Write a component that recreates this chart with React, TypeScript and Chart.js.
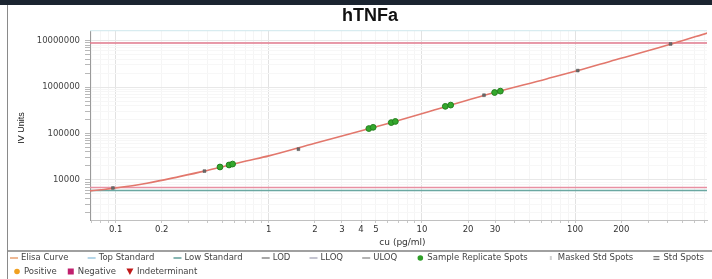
import React, { useEffect, useRef } from "react";
import { Chart, registerables } from "chart.js";

Chart.register(...registerables);

// ---------- text ----------
const CHART_TITLE = "hTNFa";
const X_AXIS_TITLE = "cu (pg/ml)";
const Y_AXIS_TITLE = "IV Units";

// ---------- tick labels ----------
const xLabelValues = [0.1, 0.2, 1, 2, 3, 4, 5, 10, 20, 30, 100, 200];
const yLabelValues = [10000, 100000, 1000000, 10000000];

// ---------- axis ranges ----------
const X_MIN = 0.068;
const X_MAX = 726;
const Y_MIN = 1370;
const Y_MAX = 1.7e7;

// ---------- Elisa curve ----------
const curveConc = [0.068, 0.1, 0.16, 0.26, 0.38, 0.49, 0.71, 1.0, 2.0, 3.45, 6.0, 12, 25.6, 65, 104, 184, 432, 730];
const curveSignal = [5800, 6700, 8500, 11800, 15500, 19000, 25500, 33000, 62000, 100000, 165000, 320000, 670000, 1500000, 2270000, 3900000, 8600000, 14700000];

// ---------- sample replicate spots ----------
const sampleConc = [0.48, 0.55, 0.58, 4.5, 4.8, 6.3, 6.7, 14.2, 15.4, 29.8, 32.5];
const sampleSignal = [19000, 21000, 22000, 128000, 136000, 172000, 182000, 385000, 410000, 765000, 820000];

// ---------- std spots ----------
const stdConc = [0.096, 0.38, 1.56, 25.4, 104, 420];
const stdSignal = [6700, 15500, 46000, 670000, 2270000, 8500000];

// ---------- horizontal reference lines ----------
const topStandardLevel = 1.65e7;
const uloqLevel = 8.9e6;
const lloqLevel = 6900;
const lowStandardLevel = 5950;

// ---------- legend ----------
const legendRow1 = ["Elisa Curve", "Top Standard", "Low Standard", "LOD", "LLOQ", "ULOQ", "Sample Replicate Spots", "Masked Std Spots", "Std Spots"];
const legendRow2 = ["Positive", "Negative", "Indeterminant"];

const FONT = '"DejaVu Sans", sans-serif';

const legendStyles: Record<string, { kind: string; color: string }> = {
  "Elisa Curve": { kind: "line", color: "#e8a070" },
  "Top Standard": { kind: "line", color: "#9cc8e0" },
  "Low Standard": { kind: "line", color: "#5f9e9a" },
  LOD: { kind: "line", color: "#8a8a8a" },
  LLOQ: { kind: "line", color: "#b0b0c0" },
  ULOQ: { kind: "line", color: "#9a9a9a" },
  "Sample Replicate Spots": { kind: "dot", color: "#2e9e28" },
  "Masked Std Spots": { kind: "tick", color: "#cfcfcf" },
  "Std Spots": { kind: "eq", color: "#777777" },
  Positive: { kind: "dot", color: "#f0a020" },
  Negative: { kind: "square", color: "#c0206e" },
  Indeterminant: { kind: "tri", color: "#c01818" },
};

const isDecade = (v: number) => Math.abs(Math.log10(v) - Math.round(Math.log10(v))) < 1e-6;
const inList = (v: number, list: number[]) => list.some((l) => Math.abs(l - v) / l < 1e-6);

function logTicks(min: number, max: number) {
  const out: { value: number }[] = [];
  for (let e = Math.floor(Math.log10(min)); e <= Math.ceil(Math.log10(max)); e++) {
    for (let k = 1; k <= 9; k++) {
      const v = Number((k * Math.pow(10, e)).toPrecision(6));
      if (v >= min && v <= max) out.push({ value: v });
    }
  }
  return out;
}

function drawMarker(ctx: CanvasRenderingContext2D, st: { kind: string; color: string }, cx: number, cy: number) {
  ctx.save();
  ctx.fillStyle = st.color;
  ctx.strokeStyle = st.color;
  ctx.lineWidth = 1.5;
  if (st.kind === "line") {
    ctx.beginPath();
    ctx.moveTo(cx - 4, cy);
    ctx.lineTo(cx + 4, cy);
    ctx.stroke();
  } else if (st.kind === "dot") {
    ctx.beginPath();
    ctx.arc(cx, cy, 2.8, 0, Math.PI * 2);
    ctx.fill();
  } else if (st.kind === "square") {
    ctx.fillRect(cx - 3, cy - 3, 6, 6);
  } else if (st.kind === "tri") {
    ctx.beginPath();
    ctx.moveTo(cx - 3.5, cy - 3);
    ctx.lineTo(cx + 3.5, cy - 3);
    ctx.lineTo(cx, cy + 3.5);
    ctx.closePath();
    ctx.fill();
  } else if (st.kind === "eq") {
    ctx.fillRect(cx - 3, cy - 2, 6, 1.3);
    ctx.fillRect(cx - 3, cy + 0.7, 6, 1.3);
  } else if (st.kind === "tick") {
    ctx.fillRect(cx - 1, cy - 2, 2, 4);
  }
  ctx.restore();
}

function drawLegendRow(ctx: CanvasRenderingContext2D, items: string[], y: number, x0: number, xEnd: number | null) {
  const widths = items.map((l) => ctx.measureText(l).width);
  const itemW = widths.map((w) => 11 + w);
  const total = itemW.reduce((a, b) => a + b, 0);
  const gap = xEnd === null ? 10 : (xEnd - x0 - total) / (items.length - 1);
  let x = x0;
  items.forEach((label, i) => {
    drawMarker(ctx, legendStyles[label], x + 4, y);
    ctx.fillStyle = "#444";
    ctx.fillText(label, x + 11, y);
    x += itemW[i] + gap;
  });
}

const decorPlugin = {
  id: "decor",
  beforeDraw(chart: any) {
    const { ctx, width, height } = chart;
    ctx.save();
    ctx.fillStyle = "#ffffff";
    ctx.fillRect(0, 0, width, height);
    ctx.fillStyle = "#1b2430";
    ctx.fillRect(0, 0, width, 5);
    ctx.strokeStyle = "#8a8a8a";
    ctx.lineWidth = 1;
    ctx.beginPath();
    ctx.moveTo(7.5, 5);
    ctx.lineTo(7.5, height);
    ctx.stroke();
    ctx.strokeStyle = "#a0a0a0";
    ctx.lineWidth = 2;
    ctx.beginPath();
    ctx.moveTo(8, 251);
    ctx.lineTo(width, 251);
    ctx.stroke();
    ctx.restore();
  },
  afterDraw(chart: any) {
    const { ctx, chartArea } = chart;
    ctx.save();
    // title
    ctx.fillStyle = "#111";
    ctx.font = 'bold 18px "Liberation Sans", Arial, sans-serif';
    ctx.textAlign = "center";
    ctx.textBaseline = "alphabetic";
    ctx.fillText(CHART_TITLE, 370, 21);
    // x title
    ctx.font = `9px ${FONT}`;
    ctx.fillStyle = "#333";
    ctx.textBaseline = "middle";
    ctx.fillText(X_AXIS_TITLE, (chartArea.left + chartArea.right) / 2 + 4, 243);
    // y title
    ctx.save();
    ctx.translate(22, (chartArea.top + chartArea.bottom) / 2 + 3);
    ctx.rotate(-Math.PI / 2);
    ctx.font = '9px "Liberation Sans", Arial, sans-serif';
    ctx.fillStyle = "#222";
    ctx.fillText(Y_AXIS_TITLE, 0, 0);
    ctx.restore();
    // legend
    ctx.font = `8.5px ${FONT}`;
    ctx.textAlign = "left";
    ctx.textBaseline = "middle";
    drawLegendRow(ctx, legendRow1, 258, 10, 704);
    drawLegendRow(ctx, legendRow2, 271.5, 13, null);
    ctx.restore();
  },
};

const toPts = (xs: number[], ys: number[]) => xs.map((x, i) => ({ x, y: ys[i] }));
const hLine = (v: number) => [
  { x: X_MIN, y: v },
  { x: X_MAX, y: v },
];

export default function App() {
  const canvasRef = useRef<HTMLCanvasElement | null>(null);

  useEffect(() => {
    document.body.style.margin = "0";
    const canvas = canvasRef.current;
    if (!canvas) return;
    const chart = new Chart(canvas, {
      type: "scatter",
      data: {
        datasets: [
          {
            label: "Sample Replicate Spots",
            data: toPts(sampleConc, sampleSignal),
            backgroundColor: "#34a82c",
            borderColor: "#24801f",
            borderWidth: 1,
            pointRadius: 2.9,
            order: 0,
          },
          {
            label: "Std Spots",
            data: toPts(stdConc, stdSignal),
            backgroundColor: "#6a6a6a",
            borderColor: "#555",
            borderWidth: 0.5,
            pointStyle: "rect",
            pointRadius: 2,
            order: 0,
          },
          {
            label: "Elisa Curve",
            data: toPts(curveConc, curveSignal),
            showLine: true,
            borderColor: "#e2776c",
            borderWidth: 1.6,
            pointRadius: 0,
            cubicInterpolationMode: "monotone",
            order: 1,
          },
          {
            label: "Top Standard",
            data: hLine(topStandardLevel),
            showLine: true,
            borderColor: "#d8ecf0",
            borderWidth: 1.5,
            pointRadius: 0,
            order: 2,
          },
          {
            label: "ULOQ",
            data: hLine(uloqLevel),
            showLine: true,
            borderColor: "#e0788c",
            borderWidth: 1.5,
            pointRadius: 0,
            order: 2,
          },
          {
            label: "LLOQ",
            data: hLine(lloqLevel),
            showLine: true,
            borderColor: "#e890a2",
            borderWidth: 1.5,
            pointRadius: 0,
            order: 2,
          },
          {
            label: "Low Standard",
            data: hLine(lowStandardLevel),
            showLine: true,
            borderColor: "#6aa8a2",
            borderWidth: 1.5,
            pointRadius: 0,
            order: 2,
          },
        ],
      },
      options: {
        responsive: false,
        animation: false,
        devicePixelRatio: 1,
        layout: { padding: { top: 30, left: 0, right: 0, bottom: 0 } },
        plugins: {
          legend: { display: false },
          title: { display: false },
          tooltip: { enabled: false },
        },
        scales: {
          x: {
            type: "logarithmic",
            position: "bottom",
            min: X_MIN,
            max: X_MAX,
            afterBuildTicks: (scale: any) => {
              scale.ticks = logTicks(X_MIN, X_MAX);
            },
            afterFit: (scale: any) => {
              scale.height = 59;
              scale.paddingLeft = 0;
              scale.paddingRight = 0;
            },
            ticks: {
              autoSkip: false,
              maxRotation: 0,
              minRotation: 0,
              padding: 2,
              color: "#333",
              font: { family: FONT, size: 8.5 },
              callback: (v: any) => (inList(Number(v), xLabelValues) ? String(Number(v)) : ""),
            },
            grid: {
              color: (c: any) => (c.tick && isDecade(c.tick.value) ? "#e2e2e2" : "#f5f5f5"),
              tickColor: "#c8c8c8",
              tickLength: 3,
            },
            border: { color: "#c0c0c0", width: 1 },
          },
          y: {
            type: "logarithmic",
            position: "left",
            min: Y_MIN,
            max: Y_MAX,
            afterBuildTicks: (scale: any) => {
              scale.ticks = logTicks(Y_MIN, Y_MAX);
            },
            afterFit: (scale: any) => {
              scale.width = 90;
              scale.paddingTop = 0;
              scale.paddingBottom = 0;
            },
            ticks: {
              autoSkip: false,
              padding: 5,
              color: "#444",
              font: { family: FONT, size: 8.5 },
              callback: (v: any) => (inList(Number(v), yLabelValues) ? String(Number(v)) : ""),
            },
            grid: {
              color: (c: any) => (c.tick && isDecade(c.tick.value) ? "#e8e8e8" : "#f7f7f7"),
              tickColor: "#b8b8b8",
              tickLength: 5,
            },
            border: { color: "#9a9a9a", width: 1 },
          },
        },
      },
      plugins: [decorPlugin],
    });
    return () => chart.destroy();
  }, []);

  return (
    <div style={{ width: 712, height: 279, position: "relative" }}>
      <canvas ref={canvasRef} width={712} height={279} style={{ width: 712, height: 279, display: "block" }} />
    </div>
  );
}
